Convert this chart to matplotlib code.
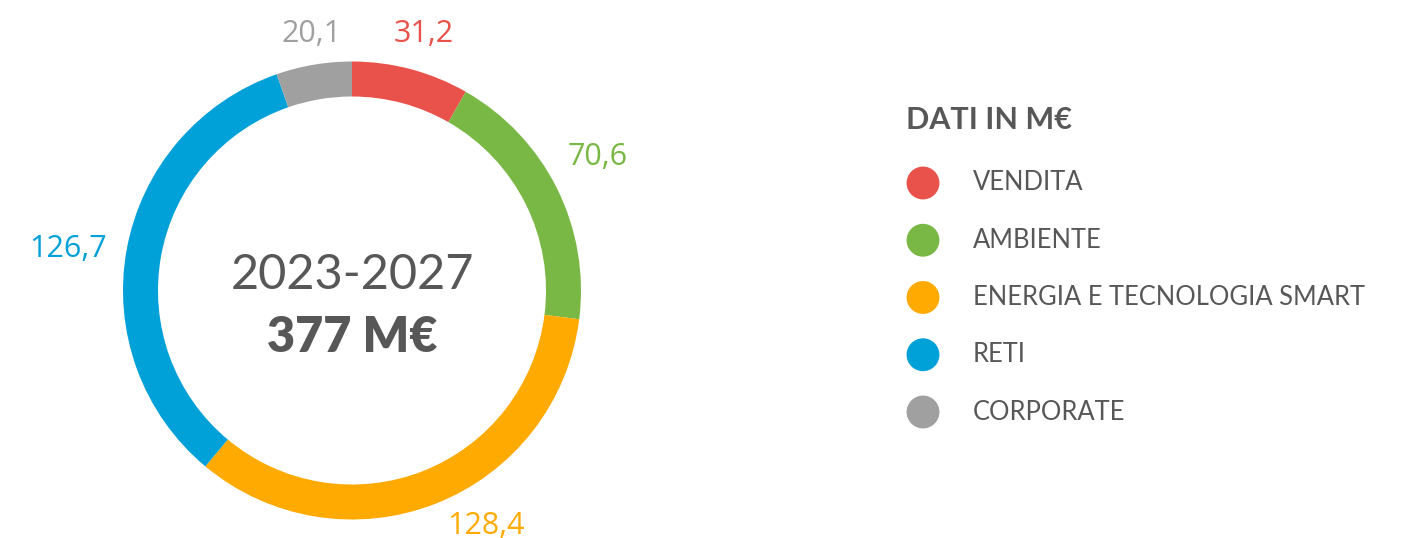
import matplotlib
matplotlib.use("Agg")
import matplotlib.pyplot as plt
import numpy as np

# data (M€)
categories = ["VENDITA", "AMBIENTE", "ENERGIA E TECNOLOGIA SMART", "RETI", "CORPORATE"]
values = [31.2, 70.6, 128.4, 126.7, 20.1]
value_labels = ["31,2", "70,6", "128,4", "126,7", "20,1"]
period_label = "2023-2027"
total_label = "377 M€"
legend_title = "DATI IN M€"

colors = ["#E9524A", "#7AB845", "#FFAA00", "#00A0D8", "#A0A0A0"]
text_grey = "#575757"

W, H = 1402, 538
CX, CY, R, RING = 352, 290.5, 229, 35
# per-label pixel nudges (dx, dy in screen pixels, y down)
label_nudge = [(4, -2), (10, -16), (38, -10), (-25, 6), (3, 3)]


def py(y):
    """screen y (top = 0) -> data y"""
    return H - y


fig = plt.figure(figsize=(W / 100, H / 100), dpi=100)
ax = fig.add_axes([0, 0, 1, 1])

ax.pie(values, colors=colors, startangle=90, counterclock=False,
       center=(CX, py(CY)), radius=R,
       wedgeprops=dict(width=RING, linewidth=0))
ax.set_xlim(0, W)
ax.set_ylim(0, H)
ax.set_aspect("auto")
ax.axis("off")

# value labels around the ring
total = sum(values)
cum = np.cumsum([0] + values[:-1])
for v, c0, lab, col, (dx, dy) in zip(values, cum, value_labels, colors, label_nudge):
    theta = np.deg2rad((c0 + v / 2) / total * 360)
    r_lab = 1.15 * R
    x = CX + r_lab * np.sin(theta) + dx
    y = CY - r_lab * np.cos(theta) + dy
    ax.text(x, py(y), lab, color=col, fontsize=22, family="Open Sans",
            ha="center", va="center")

# centre text
ax.text(CX, py(275), period_label, color=text_grey, fontsize=35, family="Lato",
        fontweight="normal", ha="center", va="center")
ax.text(CX, py(337), total_label, color=text_grey, fontsize=35, family="Lato",
        fontweight="heavy", ha="center", va="center")

# legend
ax.text(906, py(120), legend_title, color=text_grey, fontsize=22, family="Lato",
        fontweight="bold", ha="left", va="center")
row_y = 183 + 57.25 * np.arange(len(categories))
ax.scatter(np.full(len(categories), 923), py(row_y), s=560, c=colors,
           marker="o", linewidths=0)
for cat, yy in zip(categories, row_y):
    ax.text(973, py(yy), cat, color=text_grey, fontsize=18.4, family="Lato",
            ha="left", va="center")

fig.savefig("out.png", dpi=100)
